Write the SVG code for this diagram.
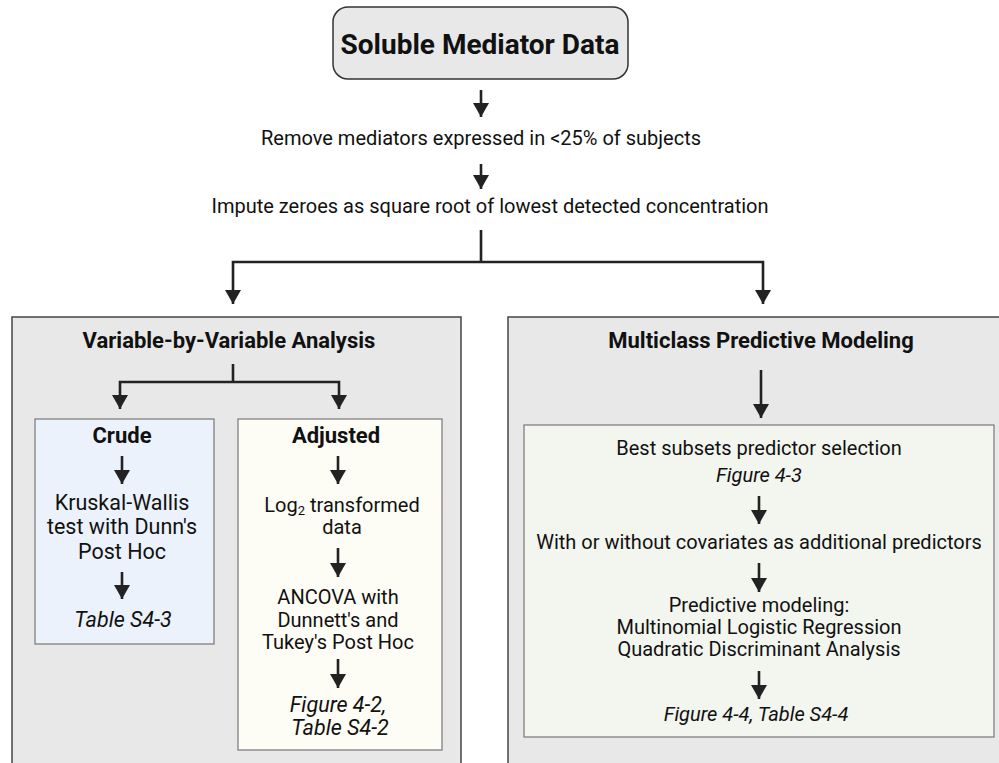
<svg xmlns="http://www.w3.org/2000/svg" width="999" height="763" viewBox="0 0 999 763">
<style>
text{font-family:Roboto,"Liberation Sans",sans-serif;fill:#111;text-anchor:middle}
.b{font-weight:bold}
.t{font-size:20px}
.h{font-size:22px}
.k{font-size:21.5px}
.i{font-style:italic}
.c{stroke:#222;stroke-width:2.6;fill:none}
</style>
<defs>
<marker id="a" markerUnits="userSpaceOnUse" markerWidth="14" markerHeight="16" refX="14" refY="8" orient="auto" viewBox="0 0 14 16">
<path d="M0,0 L14,8 L0,16 Z" fill="#222"/>
</marker>
</defs>
<rect width="999" height="763" fill="#fff"/>
<g id="top"><rect x="333" y="7" width="295" height="72" rx="15" fill="#e8e8e8" stroke="#333" stroke-width="1.5"/><text x="480" y="54" class="b" style="font-size:28px">Soluble Mediator Data</text></g>
<g id="step1"><text x="481" y="145" class="t">Remove mediators expressed in &lt;25% of subjects</text></g>
<g id="step2"><text x="490" y="213" class="t">Impute zeroes as square root of lowest detected concentration</text></g>
<g id="left"><rect x="12" y="317" width="449" height="460" fill="#e8e8e8" stroke="#444" stroke-width="1.5"/><text x="229" y="348" class="b h">Variable-by-Variable Analysis</text></g>
<g id="right"><rect x="508" y="317" width="510" height="460" fill="#e8e8e8" stroke="#444" stroke-width="1.5"/><text x="761" y="348" class="b h">Multiclass Predictive Modeling</text></g>
<g id="crude"><rect x="35" y="419" width="179" height="225" fill="#ecf2fb" stroke="#777" stroke-width="1.2"/>
<text x="122" y="443" class="b h">Crude</text>
<text x="122" y="510" class="k">Kruskal-Wallis</text>
<text x="122" y="534" class="k">test with Dunn's</text>
<text x="122" y="559" class="k">Post Hoc</text>
<text x="123" y="627" class="k i">Table S4-3</text></g>
<g id="adjusted"><rect x="238" y="419" width="204" height="331" fill="#fdfcf5" stroke="#777" stroke-width="1.2"/>
<text x="336" y="443" class="b h">Adjusted</text>
<text x="342" y="512" class="t">Log<tspan font-size="13" dy="3">2</tspan><tspan dy="-3"> transformed</tspan></text>
<text x="342" y="534" class="t">data</text>
<text x="338" y="604" class="t">ANCOVA with</text>
<text x="338" y="627" class="t">Dunnett's and</text>
<text x="338" y="649" class="t">Tukey's Post Hoc</text>
<text x="338" y="712" class="k i">Figure 4-2,</text>
<text x="340" y="735" class="k i">Table S4-2</text></g>
<g id="modeling"><rect x="524" y="425" width="470" height="312" fill="#f3f5ef" stroke="#777" stroke-width="1.2"/>
<text x="759" y="455" class="t">Best subsets predictor selection</text>
<text x="759" y="482" class="t i">Figure 4-3</text>
<text x="759" y="549" class="t">With or without covariates as additional predictors</text>
<text x="759" y="612" class="t">Predictive modeling:</text>
<text x="759" y="634" class="t">Multinomial Logistic Regression</text>
<text x="759" y="656" class="t">Quadratic Discriminant Analysis</text>
<text x="756" y="721" class="t i">Figure 4-4, Table S4-4</text></g>
<g id="connectors">
<path class="c" d="M481,90 V117" marker-end="url(#a)"/>
<path class="c" d="M481,164 V189" marker-end="url(#a)"/>
<path class="c" d="M481,230 V262"/>
<path class="c" d="M481,262 H233 V304" marker-end="url(#a)"/>
<path class="c" d="M481,262 H763 V304" marker-end="url(#a)"/>
<path class="c" d="M233,364 V382"/>
<path class="c" d="M233,382 H120 V409" marker-end="url(#a)"/>
<path class="c" d="M233,382 H339 V409" marker-end="url(#a)"/>
<path class="c" d="M761,370 V418" marker-end="url(#a)"/>
<path class="c" d="M122,456 V484" marker-end="url(#a)"/>
<path class="c" d="M122,572 V599" marker-end="url(#a)"/>
<path class="c" d="M338,456 V484" marker-end="url(#a)"/>
<path class="c" d="M338,548 V577" marker-end="url(#a)"/>
<path class="c" d="M338,659 V688" marker-end="url(#a)"/>
<path class="c" d="M759,496 V524" marker-end="url(#a)"/>
<path class="c" d="M759,563 V592" marker-end="url(#a)"/>
<path class="c" d="M759,671 V699" marker-end="url(#a)"/>
</g>
</svg>
